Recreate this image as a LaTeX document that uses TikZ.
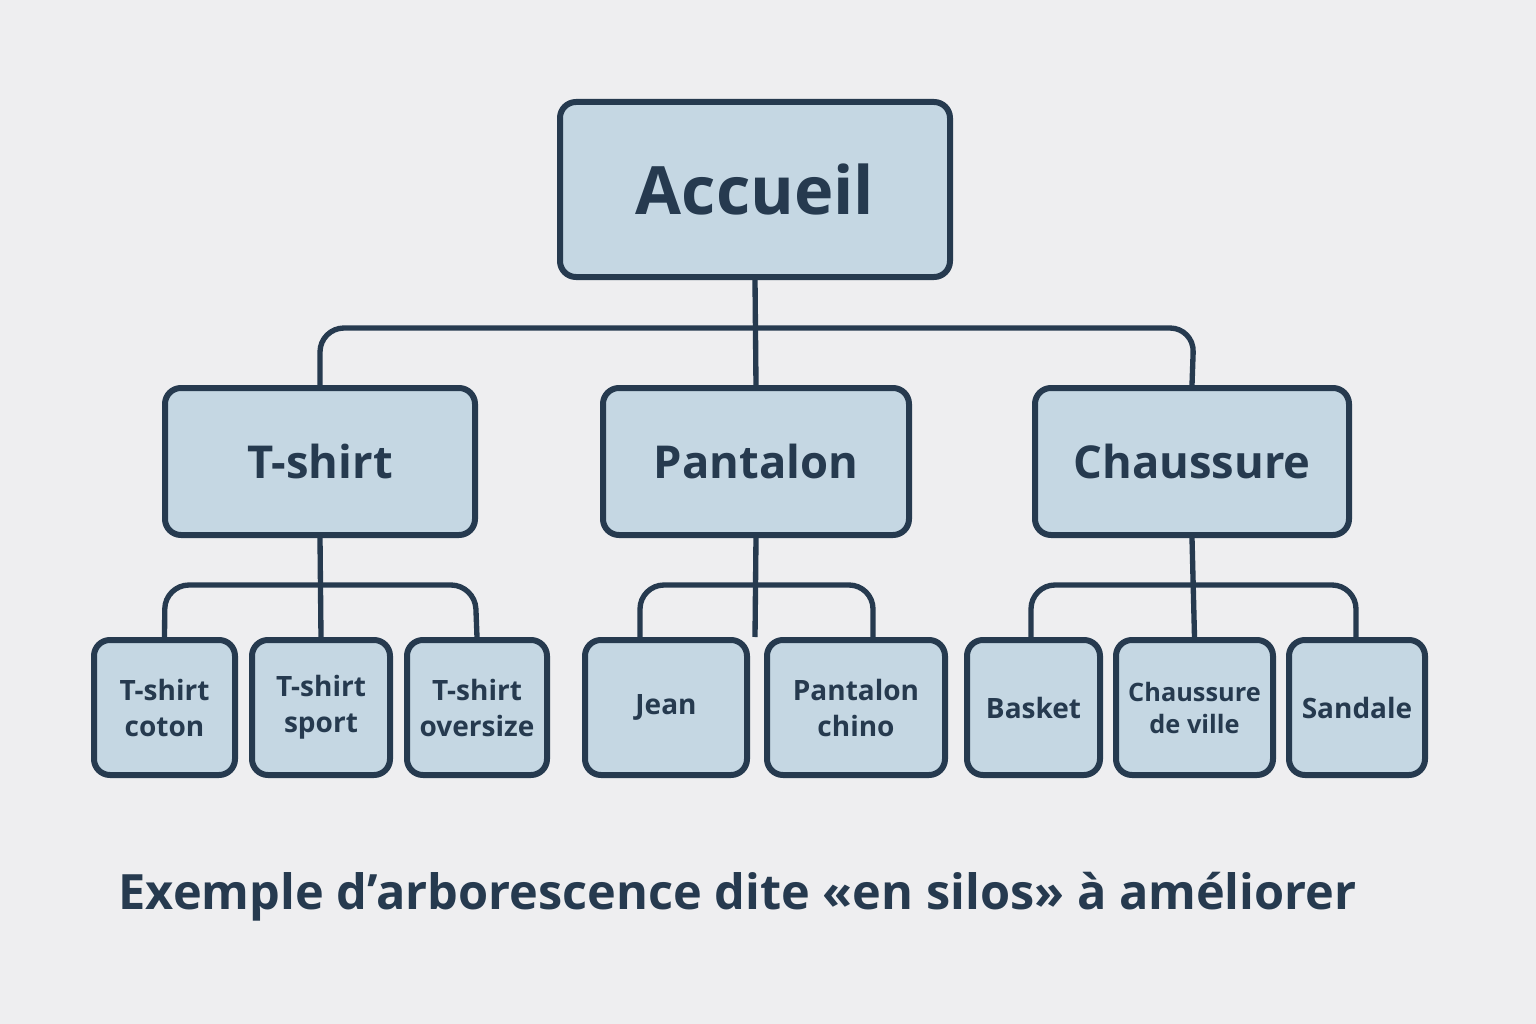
\documentclass[tikz,border=0pt]{standalone}
\usepackage{fontspec}
\setmainfont{Open Sans}
\definecolor{bg}{HTML}{EEEEF0}
\definecolor{bx}{HTML}{C5D7E3}
\definecolor{ln}{HTML}{263A4F}
\begin{document}
\begin{tikzpicture}[x=0.75pt,y=-0.75pt,
  box/.style={draw=ln,fill=bx,line width=4.5pt,rounded corners=12pt,text=ln,align=center,inner sep=0pt},
  conn/.style={draw=ln,line width=4pt,rounded corners=18pt}]
\fill[bg] (0,0) rectangle (1536,1024);
\useasboundingbox (0,0) rectangle (1536,1024);
\newcommand{\bxx}[7]{\node[box,font=#7,minimum width=#4*0.75pt-#2*0.75pt,minimum height=#5*0.75pt-#3*0.75pt] (#1) at ({(#2+#4)/2},{(#3+#5)/2}) {#6};}
\def\af{\fontsize{50}{56}\selectfont\bfseries}
\def\mf{\fontsize{34}{40}\selectfont\bfseries}
\def\lf{\fontsize{21}{27}\selectfont\bfseries}
\def\sf{\fontsize{19}{24}\selectfont\bfseries}
\bxx{acc}{560}{102}{950}{277}{Accueil}{\af}
\bxx{ts}{165}{388}{475}{535}{T-shirt}{\mf}
\bxx{pa}{603}{388}{909}{535}{Pantalon}{\mf}
\bxx{ch}{1035}{388}{1349}{535}{Chaussure}{\mf}
\bxx{l1}{94}{640}{235}{775}{T-shirt\\coton}{\lf}
\bxx{l2}{252}{640}{390}{775}{T-shirt\\sport}{\lf}
\bxx{l3}{407}{640}{547}{775}{T-shirt\\oversize}{\lf}
\bxx{l4}{585}{640}{747}{775}{Jean}{\lf}
\bxx{l5}{767}{640}{945}{775}{Pantalon\\chino}{\lf}
\bxx{l6}{967}{640}{1100}{775}{Basket}{\lf}
\bxx{l7}{1116}{640}{1273}{775}{Chaussure\\de ville}{\sf}
\bxx{l8}{1289}{640}{1425}{775}{Sandale}{\lf}
\draw[conn] (acc.south) -- (pa.north);
\draw[conn] (ts.north) -- (320,328) -- (1194,328) -- (ch.north);
\draw[conn] (ts.south) -- (l2.north);
\draw[conn] (l1.north) -- (165,585) -- (475,585) -- (l3.north);
\draw[conn] (pa.south) -- (755,637);
\draw[conn] (640,640) -- (640,585) -- (873,585) -- (873,640);
\draw[conn] (ch.south) -- (l7.north);
\draw[conn] (1031,640) -- (1031,585) -- (1356,585) -- (1356,640);
\node[text=ln,anchor=west,font=\fontsize{36.5}{42}\selectfont\bfseries] (cap) at (114,897) {Exemple d’arborescence dite «en silos» à améliorer};
\end{tikzpicture}
\end{document}
